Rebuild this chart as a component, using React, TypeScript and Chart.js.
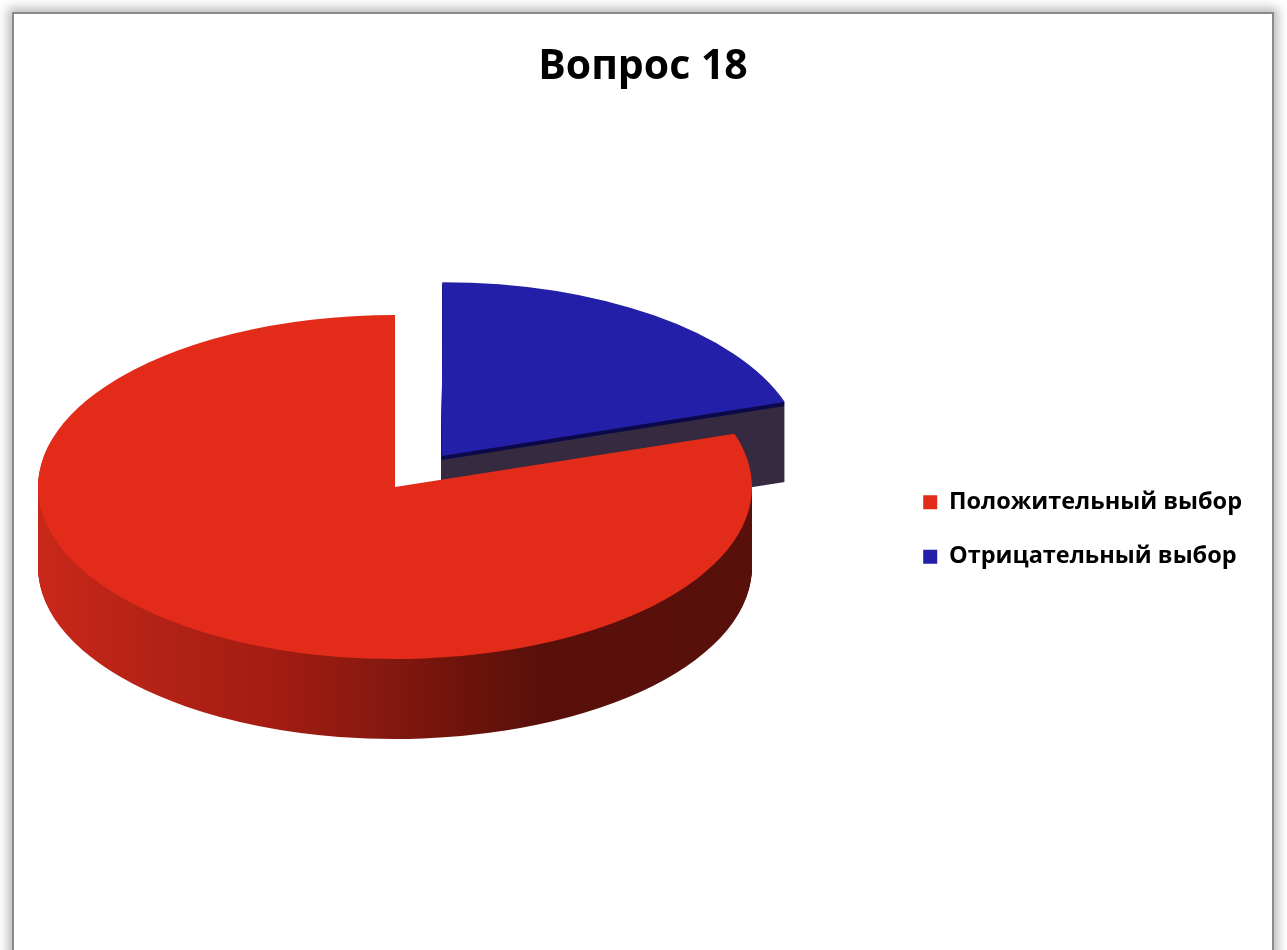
import React, { useEffect, useRef } from 'react';
import { Chart, registerables } from 'chart.js';

Chart.register(...registerables);

// ---- data ----
const categories = ['Положительный выбор', 'Отрицательный выбор'];
const values = [80, 20];
const topColors = ['#E32B1A', '#231FA9'];
const explode = [0, 318];
const titleText = 'Вопрос 18';

// ---- 3D look ----
const CANVAS_W = 1258;
const CANVAS_H = 1031;
const CX = 381;
const CY = 473;
const RX = 357;
const RY = 172;
const DEPTH = 80;
const S = RY / RX;

const pie3d = {
  id: 'pie3d',
  beforeDatasetsDraw(chart: any) {
    const ctx: CanvasRenderingContext2D = chart.ctx;
    const arcs = chart.getDatasetMeta(0).data;
    if (!arcs.length) return;
    const cx = arcs[0].x;
    const cy = arcs[0].y;
    const frame = (dy: number) => {
      ctx.translate(CX - cx, CY + dy);
      ctx.scale(1, S);
      ctx.translate(0, -cy);
    };
    const redSide = ctx.createLinearGradient(cx - RX, 0, cx + RX, 0);
    redSide.addColorStop(0, '#c8281a');
    redSide.addColorStop(0.17, '#b32216');
    redSide.addColorStop(0.31, '#a61d12');
    redSide.addColorStop(0.45, '#8c1a10');
    redSide.addColorStop(0.59, '#6e140c');
    redSide.addColorStop(0.7, '#5a100a');
    redSide.addColorStop(1, '#58100a');

    const blue = arcs[1];
    const bHalf = (blue.startAngle + blue.endAngle) / 2;
    const bOff = ((blue.options.offset || 0) / 4) * (2 - Math.sin(Math.min(Math.PI, blue.circumference)));
    const bRight = cx + Math.cos(bHalf) * bOff + Math.cos(blue.endAngle) * blue.outerRadius;
    const blueSide = ctx.createLinearGradient(bRight - 40, 0, bRight, 0);
    blueSide.addColorStop(0, '#352a40');
    blueSide.addColorStop(0.55, '#352a40');
    blueSide.addColorStop(0.6, '#0c0a4a');
    blueSide.addColorStop(1, '#0c0a4a');

    const sides = [redSide, blueSide];
    const order = [1, 0];
    for (const i of order) {
      const arc = arcs[i];
      for (let k = DEPTH; k >= 1; k--) {
        const p = Object.create(arc);
        let fill: any = sides[i];
        if (i === 1 && k <= 4) fill = '#0c0a4a';
        p.options = { ...arc.options, backgroundColor: fill, borderWidth: 0 };
        ctx.save();
        frame(k);
        p.draw(ctx);
        ctx.restore();
      }
    }
    ctx.save();
    frame(0);
  },
  afterDatasetsDraw(chart: any) {
    chart.ctx.restore();
  },
};

export default function App() {
  const ref = useRef<HTMLCanvasElement | null>(null);

  useEffect(() => {
    if (!ref.current) return;
    Chart.defaults.font.family = '"Open Sans", "DejaVu Sans", sans-serif';
    Chart.defaults.color = '#000';
    const chart = new Chart(ref.current, {
      type: 'pie',
      data: {
        labels: categories,
        datasets: [
          {
            data: values,
            backgroundColor: topColors,
            borderWidth: 0,
            offset: explode,
            radius: RX,
            clip: false as any,
          } as any,
        ],
      },
      options: {
        responsive: false,
        animation: false,
        rotation: (values[1] / (values[0] + values[1])) * 360,
        layout: { padding: { left: 20, right: 20 } },
        events: [],
        plugins: {
          title: {
            display: true,
            text: titleText,
            font: { size: 41, weight: 'bold' },
            color: '#000',
            padding: { top: 29, bottom: 10 },
          },
          legend: {
            position: 'right',
            labels: {
              boxWidth: 14,
              boxHeight: 14,
              padding: 31,
              font: { size: 23.5, weight: 'bold' },
              color: '#000',
            },
          },
          tooltip: { enabled: false },
        },
      },
      plugins: [pie3d],
    });
    return () => chart.destroy();
  }, []);

  return (
    <div
      style={{
        position: 'fixed',
        left: 0,
        top: 0,
        width: 1287,
        height: 950,
        overflow: 'hidden',
        background: '#fff',
      }}
    >
      <div
        style={{
          position: 'absolute',
          left: 12,
          top: 12,
          width: 1262,
          height: 1100,
          boxSizing: 'border-box',
          border: '2px solid #8a8a8a',
          boxShadow: '0 0 10px 4px rgba(0,0,0,0.28)',
          background: '#fff',
        }}
      >
        <canvas ref={ref} width={CANVAS_W} height={CANVAS_H} style={{ display: 'block' }} />
      </div>
    </div>
  );
}
